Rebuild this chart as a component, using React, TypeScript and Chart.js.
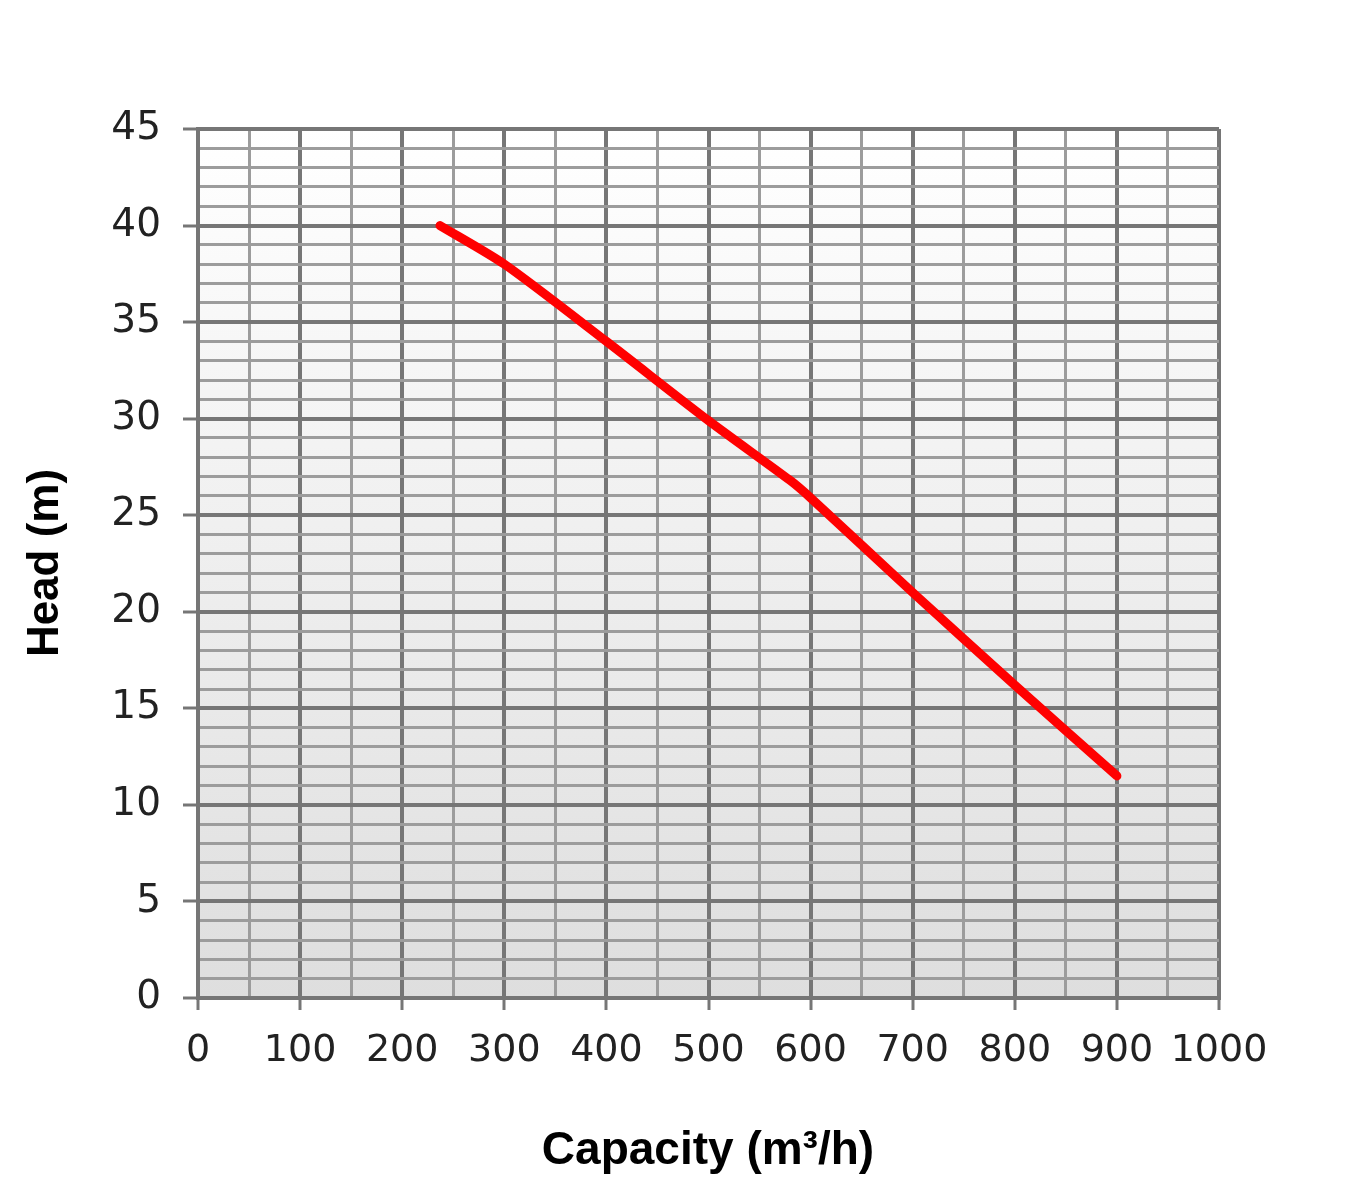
import React, { useEffect, useRef } from "react";
import { Chart, registerables } from "chart.js";

Chart.register(...registerables);

const capacity = [237, 300, 400, 500, 580, 600, 700, 800, 900];
const head = [40, 38.0, 34.0, 29.9, 26.8, 25.9, 21.0, 16.2, 11.5];

const xMin = 0;
const xMax = 1000;
const xMinorStep = 50;
const xLabelStep = 100;
const yMin = 0;
const yMax = 45;
const yMinorStep = 1;
const yLabelStep = 5;

const xTitle = "Capacity (m³/h)";
const yTitle = "Head (m)";

const W = 1360;
const H = 1200;

const MAJOR = "#767676";
const MINOR = "#9c9c9c";

export default function App() {
  const ref = useRef<HTMLCanvasElement | null>(null);

  useEffect(() => {
    const canvas = ref.current;
    if (!canvas) return;

    const bgPlugin = {
      id: "bg",
      beforeDraw(chart: any) {
        const { ctx, chartArea } = chart;
        const g = ctx.createLinearGradient(0, chartArea.top, 0, chartArea.bottom);
        g.addColorStop(0, "#ffffff");
        g.addColorStop(1, "#dedede");
        ctx.save();
        ctx.fillStyle = "#ffffff";
        ctx.fillRect(0, 0, chart.width, chart.height);
        ctx.fillStyle = g;
        ctx.fillRect(chartArea.left, chartArea.top, chartArea.right - chartArea.left, chartArea.bottom - chartArea.top);
        ctx.restore();
      },
    };

    const titlePlugin = {
      id: "titles",
      afterDraw(chart: any) {
        const { ctx } = chart;
        ctx.save();
        ctx.fillStyle = "#000";
        ctx.textAlign = "center";
        ctx.textBaseline = "middle";
        ctx.font = "bold 46px 'Liberation Sans', Arial, sans-serif";
        ctx.fillText(xTitle, 708, 1151);
        ctx.font = "bold 44px 'Liberation Sans', Arial, sans-serif";
        ctx.translate(46, 563);
        ctx.rotate(-Math.PI / 2);
        ctx.fillText(yTitle, 0, 0);
        ctx.restore();
      },
    };

    const isMajorX = (v: number) => Math.abs(v % xLabelStep) < 1e-6;
    const isMajorY = (v: number) => Math.abs(v % yLabelStep) < 1e-6;

    const chart = new Chart(canvas, {
      type: "line",
      data: {
        datasets: [
          {
            data: capacity.map((x, i) => ({ x, y: head[i] })),
            borderColor: "#ff0000",
            borderWidth: 9,
            borderCapStyle: "round",
            borderJoinStyle: "round",
            pointRadius: 0,
            fill: false,
            tension: 0.25,
          },
        ],
      },
      options: {
        responsive: false,
        animation: false,
        events: [],
        layout: { padding: { left: 0, top: 129, right: 141, bottom: 0 } },
        plugins: { legend: { display: false }, tooltip: { enabled: false } },
        scales: {
          x: {
            type: "linear",
            min: xMin,
            max: xMax,
            afterFit(scale: any) {
              scale.height = 202;
            },
            ticks: {
              stepSize: xMinorStep,
              autoSkip: false,
              maxRotation: 0,
              padding: 18,
              color: "#222",
              font: { family: "'DejaVu Sans', Verdana, sans-serif", size: 38 },
              callback: (v: any) => (isMajorX(Number(v)) ? String(v) : ""),
            },
            grid: {
              color: (c: any) => (isMajorX(c.tick?.value ?? 0) ? MAJOR : MINOR),
              lineWidth: (c: any) => (isMajorX(c.tick?.value ?? 0) ? 4 : 3),
              tickColor: (c: any) => (isMajorX(c.tick?.value ?? 0) ? MAJOR : "rgba(0,0,0,0)"),
              tickWidth: 3,
              tickLength: 12,
              drawTicks: true,
            },
            border: { display: true, color: MAJOR, width: 4 },
          },
          y: {
            type: "linear",
            min: yMin,
            max: yMax,
            afterFit(scale: any) {
              scale.width = 198;
            },
            ticks: {
              stepSize: yMinorStep,
              autoSkip: false,
              padding: 22,
              color: "#222",
              font: { family: "'DejaVu Sans', Verdana, sans-serif", size: 39 },
              callback: (v: any) => (isMajorY(Number(v)) ? String(v) : ""),
            },
            grid: {
              color: (c: any) => (isMajorY(c.tick?.value ?? 0) ? MAJOR : MINOR),
              lineWidth: (c: any) => (isMajorY(c.tick?.value ?? 0) ? 4 : 3),
              tickColor: (c: any) => (isMajorY(c.tick?.value ?? 0) ? MAJOR : "rgba(0,0,0,0)"),
              tickWidth: 3,
              tickLength: 15,
              drawTicks: true,
            },
            border: { display: true, color: MAJOR, width: 4 },
          },
        },
      } as any,
      plugins: [bgPlugin, titlePlugin],
    });

    return () => chart.destroy();
  }, []);

  return (
    <div style={{ position: "absolute", left: 0, top: 0, width: W, height: H, background: "#fff" }}>
      <canvas ref={ref} width={W} height={H} style={{ display: "block", width: W, height: H }} />
    </div>
  );
}
